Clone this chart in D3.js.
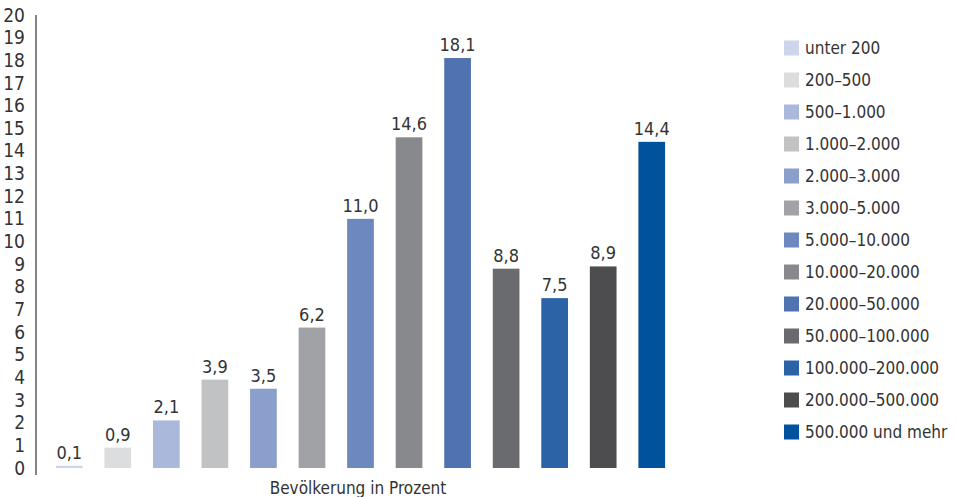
<!DOCTYPE html>
<html>
<head>
<meta charset="utf-8">
<script src="https://cdn.jsdelivr.net/npm/d3@7"></script>
<style>
  html, body { margin: 0; padding: 0; background: #fff; }
  svg text { font-family: "Liberation Sans Narrow", "DejaVu Sans Condensed", "Roboto", sans-serif; fill: #333; }
</style>
</head>
<body>
<svg id="chart" width="957" height="497"></svg>
<script>
// Größenklassen der Gemeinden (Einwohner)
const categories = [
  'unter 200', '200–500', '500–1.000', '1.000–2.000', '2.000–3.000',
  '3.000–5.000', '5.000–10.000', '10.000–20.000', '20.000–50.000',
  '50.000–100.000', '100.000–200.000', '200.000–500.000', '500.000 und mehr'
];
// Bevölkerung in Prozent
const values = [0.1, 0.9, 2.1, 3.9, 3.5, 6.2, 11.0, 14.6, 18.1, 8.8, 7.5, 8.9, 14.4];
const colors = [
  '#cdd5ea', '#dcdddf', '#aab8dc', '#c1c2c4', '#8b9fcc', '#a1a2a6', '#6d87bf',
  '#88898d', '#4f72b0', '#6a6b6f', '#2c62a6', '#4d4d50', '#00529c'
];
const yTicks = d3.range(0, 21);
const axisTitle = 'Bevölkerung in Prozent';

const svg = d3.select('#chart');

const x = d3.scaleBand()
  .domain(categories)
  .range([45, 676])
  .paddingInner(0.45)
  .paddingOuter(0.225);

const y = d3.scaleLinear()
  .domain([0, 20])
  .range([468, 15]);

const fmt = v => d3.format('.1f')(v).replace('.', ',');

// y axis: line plus labels, no tick marks
const yAxis = svg.append('g')
  .attr('transform', 'translate(36,0)')
  .call(d3.axisLeft(y).tickValues(yTicks).tickSize(0).tickPadding(11).tickFormat(d3.format('d')));
yAxis.select('.domain').remove();
yAxis.selectAll('text')
  .style('font-size', '19px')
  .attr('fill', '#333');

svg.append('line')
  .attr('x1', 36).attr('x2', 36)
  .attr('y1', 15).attr('y2', 475)
  .attr('stroke', '#333')
  .attr('stroke-width', 1.2);

// bars
svg.append('g')
  .selectAll('rect')
  .data(values)
  .join('rect')
  .attr('x', (d, i) => x(categories[i]))
  .attr('y', d => y(d))
  .attr('width', x.bandwidth())
  .attr('height', d => y(0) - y(d))
  .attr('fill', (d, i) => colors[i]);

// value labels
svg.append('g')
  .selectAll('text')
  .data(values)
  .join('text')
  .attr('x', (d, i) => x(categories[i]) + x.bandwidth() / 2)
  .attr('y', d => y(d) - 7)
  .attr('text-anchor', 'middle')
  .style('font-size', '18px')
  .text(d => fmt(d));

// axis title
svg.append('text')
  .attr('x', 358)
  .attr('y', 494)
  .attr('text-anchor', 'middle')
  .style('font-size', '17px')
  .text(axisTitle);

// legend
const legend = svg.append('g')
  .attr('transform', 'translate(784,48)');

const rows = legend.selectAll('g')
  .data(categories)
  .join('g')
  .attr('transform', (d, i) => `translate(0,${i * 32})`);

rows.append('rect')
  .attr('x', 0)
  .attr('y', -7.5)
  .attr('width', 15)
  .attr('height', 15)
  .attr('fill', (d, i) => colors[i]);

rows.append('text')
  .attr('x', 21)
  .attr('y', 6)
  .style('font-size', '17px')
  .text(d => d);
</script>
</body>
</html>
